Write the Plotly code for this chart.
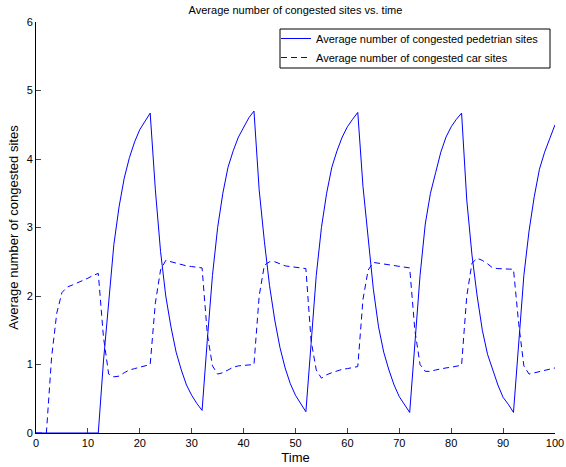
import plotly.graph_objects as go

time = list(range(0, 101))

pedestrian = [
    0, 0, 0, 0, 0, 0, 0, 0, 0, 0, 0, 0, 0,
    1.05, 1.95, 2.75, 3.3, 3.72, 4.02, 4.25, 4.43, 4.56, 4.67,
    3.55, 2.65, 2.0, 1.55, 1.18, 0.92, 0.7, 0.55, 0.43, 0.33,
    1.35, 2.3, 3.0, 3.5, 3.88, 4.12, 4.32, 4.47, 4.6, 4.7,
    3.55, 2.8, 2.15, 1.65, 1.25, 0.95, 0.72, 0.55, 0.42, 0.31,
    1.3, 2.3, 3.0, 3.5, 3.88, 4.12, 4.32, 4.47, 4.58, 4.68,
    3.6, 2.8, 2.1, 1.55, 1.18, 0.92, 0.7, 0.53, 0.41, 0.3,
    1.3, 2.3, 3.05, 3.5, 3.8, 4.1, 4.32, 4.47, 4.58, 4.67,
    3.4, 2.6, 2.0, 1.5, 1.15, 0.92, 0.7, 0.52, 0.42, 0.3,
    1.3, 2.3, 2.95, 3.45, 3.85, 4.1, 4.3, 4.5,
]

car = [
    0, 0, 0, 1.1, 1.75, 2.05, 2.13, 2.16, 2.19, 2.22, 2.26, 2.3, 2.33,
    1.4, 0.86, 0.82, 0.83, 0.88, 0.92, 0.94, 0.96, 0.98, 1.0,
    1.9, 2.38, 2.52, 2.5, 2.47, 2.45, 2.44, 2.43, 2.42, 2.41,
    1.45, 0.98, 0.86, 0.88, 0.92, 0.96, 0.98, 0.99, 1.0, 1.0,
    2.0, 2.45, 2.5, 2.5, 2.47, 2.44, 2.43, 2.42, 2.41, 2.4,
    1.35, 0.92, 0.8, 0.85, 0.88, 0.91, 0.93, 0.94, 0.95, 0.97,
    1.95, 2.38, 2.49, 2.48, 2.47, 2.46, 2.45, 2.44, 2.43, 2.41,
    1.5, 1.0, 0.9, 0.9, 0.92, 0.94, 0.95, 0.96, 0.98, 0.99,
    2.0, 2.48, 2.55, 2.52, 2.47, 2.41, 2.4, 2.4, 2.39, 2.39,
    1.6, 0.98, 0.86, 0.88, 0.9, 0.92, 0.93, 0.95,
]

x_ticks = [0, 10, 20, 30, 40, 50, 60, 70, 80, 90, 100]
y_ticks = [0, 1, 2, 3, 4, 5, 6]

font = "Liberation Sans, Arial, sans-serif"

# plot area in pixels
L, R, T, B = 36, 555, 22, 433
W, H = 566, 467

def px_x(p):
    return (p - L) / (R - L)

def px_y(p):
    return (B - p) / (B - T)

fig = go.Figure()
fig.add_trace(go.Scatter(x=time, y=pedestrian, mode="lines",
                         name="Average number of congested pedetrian sites",
                         line=dict(color="#0000ff", width=1)))
fig.add_trace(go.Scatter(x=time, y=car, mode="lines",
                         name="Average number of congested car sites",
                         line=dict(color="#0000ff", width=1, dash="6px,4px")))

fig.update_layout(
    width=W, height=H,
    margin=dict(l=L, r=W - R, t=T, b=H - B, autoexpand=False),
    paper_bgcolor="white", plot_bgcolor="white",
    font=dict(family=font, size=11, color="black"),
    title=dict(text="Average number of congested sites vs. time",
               x=(L + R) / 2 / W, xanchor="center", y=1 - 10 / H, yanchor="middle",
               font=dict(size=11)),
    legend=dict(x=px_x(276), y=px_y(24), xanchor="left", yanchor="top",
                bgcolor="rgba(0,0,0,0)", borderwidth=0,
                font=dict(size=11), itemwidth=30, tracegroupgap=0),
    showlegend=True,
    shapes=[dict(type="rect", xref="paper", yref="paper",
                 x0=px_x(280), x1=px_x(550), y0=px_y(68), y1=px_y(29),
                 line=dict(color="black", width=1), fillcolor="white", layer="above")],
)
fig.update_xaxes(range=[0, 100], tickvals=x_ticks, ticks="inside", ticklen=5,
                 showline=True, linecolor="black", linewidth=1, showgrid=False,
                 zeroline=False, automargin=False, ticklabelstandoff=0,
                 title=dict(text="Time", standoff=4),
                 tickfont=dict(size=11))
fig.update_yaxes(range=[0, 6], tickvals=y_ticks, ticks="inside", ticklen=5,
                 showline=True, linecolor="black", linewidth=1, showgrid=False,
                 zeroline=False, automargin=False,
                 title=dict(text="Average number of congested sites", standoff=5),
                 tickfont=dict(size=11))

fig.write_html("out.html", config={"displayModeBar": False},
               post_script="document.body.style.margin='0';")
